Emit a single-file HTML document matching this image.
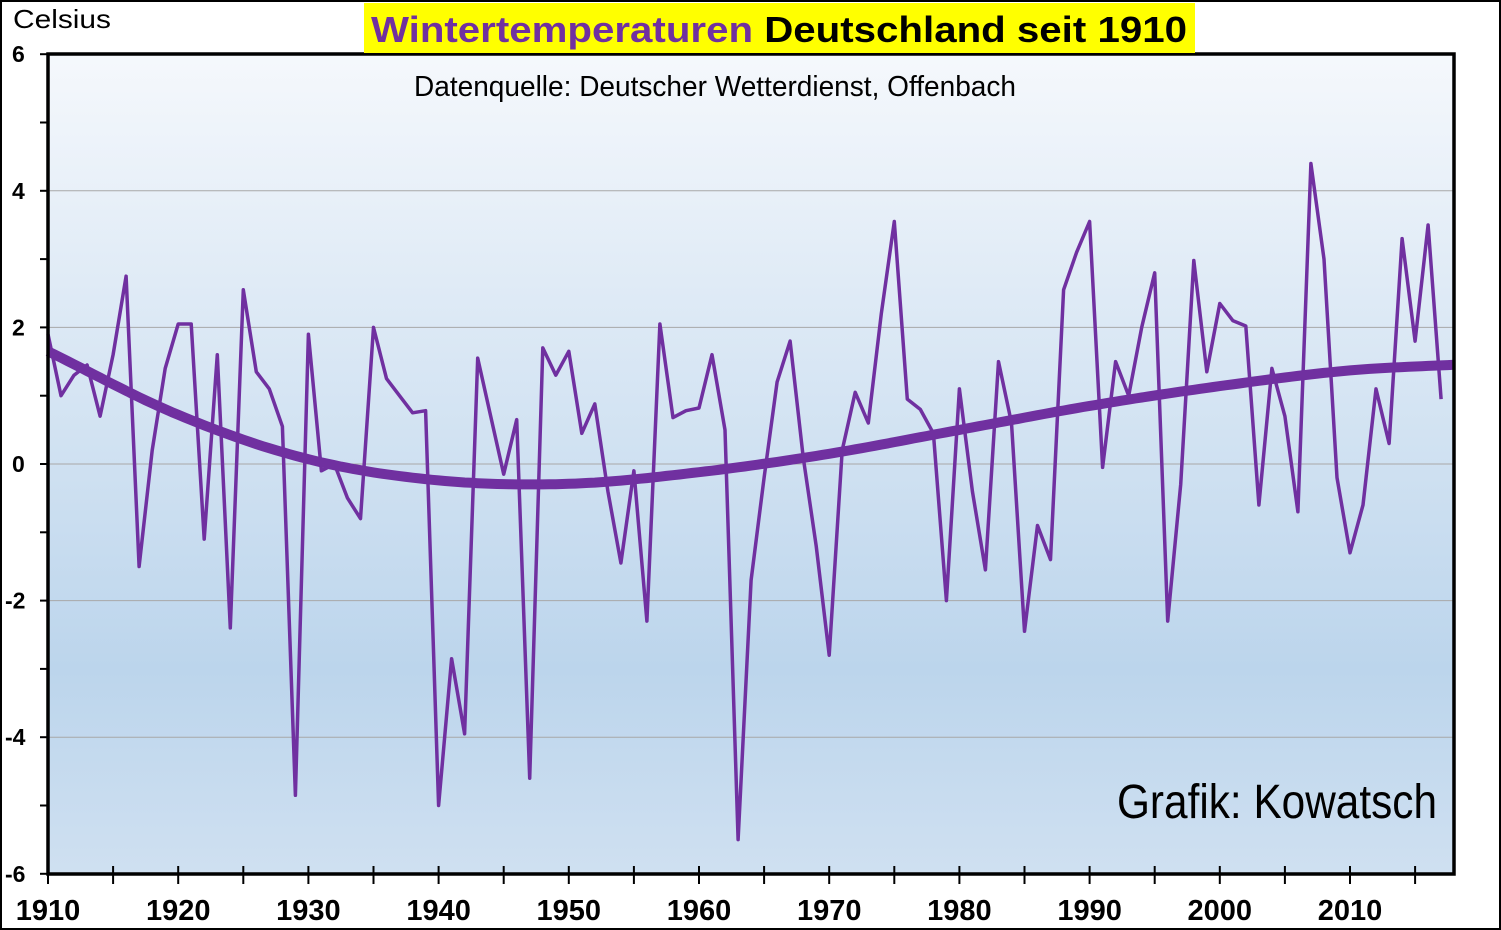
<!DOCTYPE html>
<html><head><meta charset="utf-8"><style>
html,body{margin:0;padding:0;background:#fff;}
svg{display:block;}
text{font-family:"Liberation Sans",sans-serif;}
</style></head><body>
<svg id="s" width="1501" height="930" xmlns="http://www.w3.org/2000/svg">
<defs><linearGradient id="g" x1="0" y1="0" x2="0" y2="1">
<stop offset="0" stop-color="#f5f8fc"/><stop offset="0.75" stop-color="#bcd5ec"/><stop offset="1" stop-color="#cfe0f1"/></linearGradient></defs>
<rect x="1" y="1" width="1499" height="928" fill="#fff" stroke="#000" stroke-width="2"/>
<rect x="48" y="54" width="1406" height="820" fill="url(#g)"/>
<g id="grid" stroke="#a8a8a8" stroke-width="1"></g>
<g id="ser"></g>
<rect x="48" y="54" width="1406" height="820" fill="none" stroke="#000" stroke-width="3.5"/>
<g id="ticks" stroke="#000" stroke-width="2"></g>
<g id="lab" font-weight="bold"></g>
<text x="13" y="28" font-size="26" textLength="98" lengthAdjust="spacingAndGlyphs">Celsius</text>
<rect x="364" y="3" width="831" height="50" fill="#ffff00"/>
<text x="779" y="42" font-size="36" font-weight="bold" text-anchor="middle" textLength="816" lengthAdjust="spacingAndGlyphs"><tspan fill="#7030a0">Wintertemperaturen</tspan> Deutschland seit 1910</text>
<text x="414" y="96" font-size="29" textLength="602" lengthAdjust="spacingAndGlyphs">Datenquelle: Deutscher Wetterdienst, Offenbach</text>
<text x="1117" y="818" font-size="48" textLength="320" lengthAdjust="spacingAndGlyphs">Grafik: Kowatsch</text>
</svg>
<script>
var d=[1.9,1.0,1.3,1.45,0.7,1.6,2.75,-1.5,0.2,1.4,2.05,2.05,-1.1,1.6,-2.4,2.55,1.35,1.1,0.55,-4.85,1.9,-0.1,0.0,-0.5,-0.8,2.0,1.25,1.0,0.75,0.78,-5.0,-2.85,-3.95,1.55,0.7,-0.15,0.65,-4.6,1.7,1.3,1.65,0.45,0.88,-0.4,-1.45,-0.1,-2.3,2.05,0.68,0.78,0.82,1.6,0.5,-5.5,-1.7,-0.2,1.2,1.8,0.1,-1.2,-2.8,0.2,1.05,0.6,2.2,3.55,0.95,0.8,0.45,-2.0,1.1,-0.4,-1.55,1.5,0.6,-2.45,-0.9,-1.4,2.55,3.1,3.55,-0.05,1.5,1.0,2.0,2.8,-2.3,-0.3,2.98,1.35,2.35,2.1,2.02,-0.6,1.4,0.7,-0.7,4.4,3.0,-0.2,-1.3,-0.6,1.1,0.3,3.3,1.8,3.5,0.95];
function X(y){return 48+13.02*(y-1910);}function Y(v){return 464-68.3*v;}
var ns="http://www.w3.org/2000/svg";
function el(p,t,a,txt){var e=document.createElementNS(ns,t);for(var k in a)e.setAttribute(k,a[k]);if(txt!=null)e.textContent=txt;document.getElementById(p).appendChild(e);}
[-4,-2,0,2,4].forEach(function(v){el("grid","line",{x1:48,x2:1454,y1:Y(v),y2:Y(v)});});
var p=d.map(function(v,i){return X(1910+i).toFixed(1)+","+Y(v).toFixed(1);}).join(" ");
el("ser","polyline",{points:p,fill:"none",stroke:"#7030a0","stroke-width":3.5,"stroke-linejoin":"round"});
var tk=[[1910,1.65],[1920,0.72],[1930,0.07],[1940,-0.24],[1950,-0.29],[1960,-0.12],[1970,0.15],[1980,0.5],[1990,0.85],[2000,1.14],[2010,1.37],[2020,1.47]];
var tp=[];
for(var y=1910;y<=2018;y+=0.5){var i=Math.min(Math.floor((y-1910)/10),tk.length-2);
var p0=tk[Math.max(i-1,0)][1],p1=tk[i][1],p2=tk[i+1][1],p3=tk[Math.min(i+2,tk.length-1)][1];
if(i==0)p0=2*p1-p2;if(i+2>tk.length-1)p3=2*p2-p1;
var t=(y-tk[i][0])/10;
var v=0.5*((2*p1)+(-p0+p2)*t+(2*p0-5*p1+4*p2-p3)*t*t+(-p0+3*p1-3*p2+p3)*t*t*t);
tp.push(X(y).toFixed(1)+","+Y(v).toFixed(1));}
el("ser","polyline",{points:tp.join(" "),fill:"none",stroke:"#7030a0","stroke-width":10,"stroke-linejoin":"round"});
for(var v=-6;v<=6;v++)el("ticks","line",{x1:40,x2:48,y1:Y(v),y2:Y(v)});
for(var y=1910;y<=2018;y+=5)el("ticks","line",{x1:X(y),x2:X(y),y1:866,y2:884});
for(var v=-6;v<=6;v+=2)el("lab","text",{x:v<0?5:12,y:Y(v)+8,"font-size":23},String(v));
for(var y=1910;y<=2010;y+=10)el("lab","text",{x:X(y),y:920,"text-anchor":"middle","font-size":29},String(y));
</script>
</body></html>
